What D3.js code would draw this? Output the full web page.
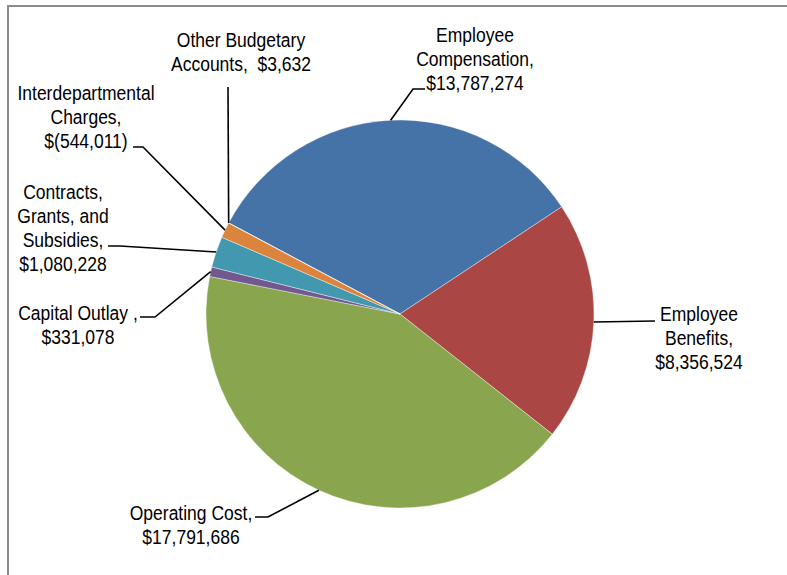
<!DOCTYPE html>
<html>
<head>
<meta charset="utf-8">
<script src="https://cdn.jsdelivr.net/npm/d3@7"></script>
<style>
  body { margin: 0; background: #fff; }
  svg { display: block; }
  .lbl { font-family: "Liberation Sans", Arial, sans-serif; font-size: 20px; fill: #000; }
</style>
</head>
<body>
<div id="chart"></div>
<script>
// data
var categories = ["Employee Compensation", "Employee Benefits", "Operating Cost", "Capital Outlay",
  "Contracts, Grants, and Subsidies", "Interdepartmental Charges", "Other Budgetary Accounts"];
var values = [13787274, 8356524, 17791686, 331078, 1080228, -544011, 3632];
var labelLines = [
  ["Employee", "Compensation,", "$13,787,274"],
  ["Employee", "Benefits,", "$8,356,524"],
  ["Operating Cost,", "$17,791,686"],
  ["Capital Outlay ,", "$331,078"],
  ["Contracts,", "Grants, and", "Subsidies,", "$1,080,228"],
  ["Interdepartmental", "Charges,", "$(544,011)"],
  ["Other Budgetary", "Accounts,  $3,632"]
];
var colors = ["#4572A7", "#AA4643", "#89A54E", "#71588F", "#4198AF", "#DB843D", "#93A9CF"];

// layout
var W = 787, H = 575,
  cx = 400, cy = 314, radius = 194,
  rotation = -62 * Math.PI / 180,
  lineH = 24;
// label text centre / first baseline, leader elbow and end
var labelPos = [
  { x: 475, y: 42, elbow: [413, 89], end: [425, 89] },
  { x: 699, y: 321, elbow: [655, 321], end: [655, 321] },
  { x: 191, y: 520, elbow: [268, 517], end: [255, 517] },
  { x: 78, y: 320, elbow: [155, 317], end: [140, 317] },
  { x: 63, y: 199, elbow: [120, 246], end: [108, 246] },
  { x: 86, y: 100, elbow: [143, 147], end: [133, 147] },
  { x: 241, y: 47, elbow: [228, 87], end: [228, 87] }
];

var svg = d3.select("#chart").append("svg")
  .attr("width", W)
  .attr("height", H);

// chart frame
svg.append("rect")
  .attr("x", 8).attr("y", 6)
  .attr("width", W + 20).attr("height", H + 20)
  .attr("fill", "#fff")
  .attr("stroke", "#8a8a8a")
  .attr("stroke-width", 2);

var pie = d3.pie()
  .sort(null)
  .value(function (d) { return Math.abs(d); })
  .startAngle(rotation)
  .endAngle(rotation + 2 * Math.PI);

var arcs = pie(values);

var arc = d3.arc().innerRadius(0).outerRadius(radius);

var g = svg.append("g").attr("transform", "translate(" + cx + "," + cy + ")");

g.selectAll("path.slice")
  .data(arcs)
  .enter().append("path")
  .attr("class", "slice")
  .attr("d", arc)
  .attr("fill", function (d, i) { return colors[i]; })
  .attr("stroke", "#fff")
  .attr("stroke-width", 0.4);

// leader lines from the slice edge
svg.selectAll("path.leader")
  .data(arcs)
  .enter().append("path")
  .attr("class", "leader")
  .attr("fill", "none")
  .attr("stroke", "#000")
  .attr("stroke-width", 1.6)
  .attr("d", function (d, i) {
    var a = (d.startAngle + d.endAngle) / 2;
    var sx = cx + radius * Math.sin(a), sy = cy - radius * Math.cos(a);
    var p = labelPos[i];
    return "M" + sx + "," + sy + "L" + p.elbow[0] + "," + p.elbow[1] + "L" + p.end[0] + "," + p.end[1];
  });

// labels
var labels = svg.selectAll("g.label")
  .data(labelLines)
  .enter().append("g")
  .attr("class", "label")
  .attr("transform", function (d, i) {
    return "translate(" + labelPos[i].x + "," + labelPos[i].y + ") scale(0.875,1)";
  });

labels.append("text")
  .attr("class", "lbl")
  .attr("text-anchor", "middle")
  .selectAll("tspan")
  .data(function (d) { return d; })
  .enter().append("tspan")
  .attr("x", 0)
  .attr("y", function (d, j) { return j * lineH; })
  .style("white-space", "pre")
  .text(function (d) { return d; });
</script>
</body>
</html>
